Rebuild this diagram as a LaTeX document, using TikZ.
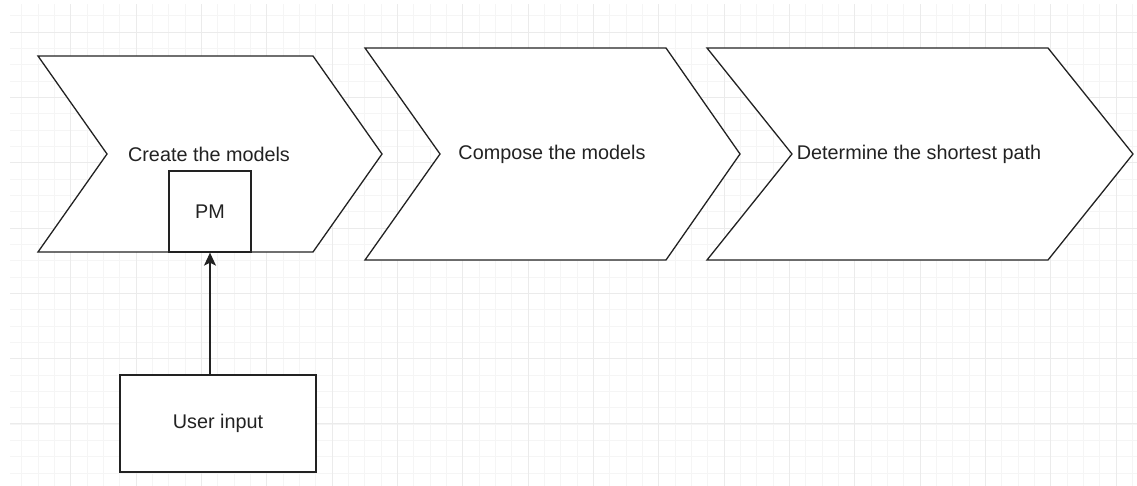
\documentclass[tikz,border=0pt]{standalone}
\usepackage{fontspec}
\setmainfont{Liberation Sans}
\usepackage{tikz}
\usetikzlibrary{positioning,arrows.meta}
\definecolor{gridmaj}{HTML}{EBEBEB}
\definecolor{gridmin}{HTML}{F5F5F5}
\definecolor{ink}{HTML}{222222}
\tikzset{
  stage/.style={draw=ink, line width=1.3pt, fill=white, line join=miter},
  stagetext/.style={font=\fontsize{19.8}{24}\selectfont, text=ink, inner sep=0pt},
  box/.style={draw=ink, line width=1.3pt, fill=white, inner sep=0pt,
    font=\fontsize{19.8}{24}\selectfont, text=ink}
}
\begin{document}
\begin{tikzpicture}[x=1pt, y=-1pt]
  \fill[white] (0,0) rectangle (1137,486);
  \useasboundingbox (0,0) rectangle (1137,486);
  % grid
  \begin{scope}
    \clip (10,5) rectangle (1137,486);
    \foreach \i in {0,...,69}
      \draw[gridmin, line width=0.8pt] ({5.5+\i*16.33},0) -- ++(0,486);
    \foreach \j in {0,...,30}
      \draw[gridmin, line width=0.8pt] (0,{-0.66+\j*16.33}) -- ++(1137,0);
    \foreach \i in {0,4,...,68}
      \draw[gridmaj, line width=0.9pt] ({5.5+\i*16.33},0) -- ++(0,486);
    \foreach \j in {2,6,...,30}
      \draw[gridmaj, line width=0.9pt] (0,{-0.66+\j*16.33}) -- ++(1137,0);
  \end{scope}
  % the three stages
  \draw[stage] (38,56) -- (313,56) -- (382,154) -- (313,252) -- (38,252) -- (107,154) -- cycle;
  \draw[stage] (365,48) -- (666,48) -- (740,154) -- (666,260) -- (365,260) -- (440,154) -- cycle;
  \draw[stage] (707,48) -- (1048,48) -- (1133,154) -- (1048,260) -- (707,260) -- (792,154) -- cycle;
  \node[stagetext] (create) at (209,154) {Create the models};
  \node[stagetext] (compose) at (552,154) {Compose the models};
  \node[stagetext] (shortest) at (919,154) {Determine the shortest path};
  % model box and input
  \node[box, minimum width=82pt, minimum height=81pt] (pm) at (210,211.5) {PM};
  \node[box, minimum width=196pt, minimum height=97pt] (user) at (218,423.5) {User input};
  \draw[-{Stealth[length=13pt,width=12pt,inset=3pt]}, draw=ink, fill=ink, line width=1.3pt]
    (user.north -| pm.south) -- (pm.south);
\end{tikzpicture}
\end{document}
